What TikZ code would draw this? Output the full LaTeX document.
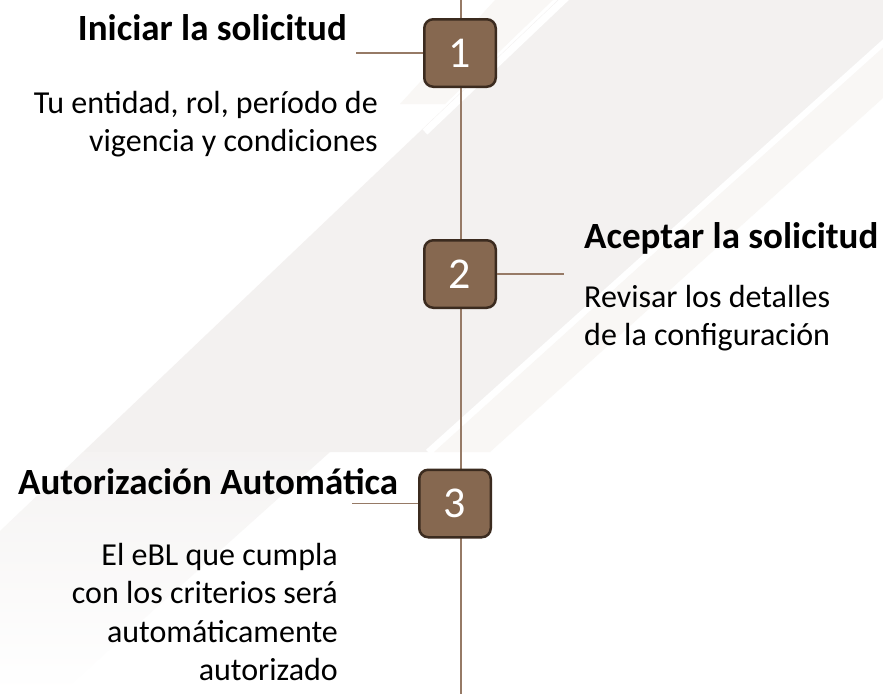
\documentclass[tikz,border=0pt]{standalone}
\usepackage{fontspec}
\setmainfont{Carlito}
\definecolor{boxfill}{RGB}{134,104,80}
\definecolor{boxline}{RGB}{59,43,31}
\definecolor{linkc}{RGB}{150,122,102}
\definecolor{bgA}{RGB}{243,241,240}
\definecolor{bgB}{RGB}{249,247,245}
\begin{document}
\begin{tikzpicture}[x=1pt,y=-1pt,
  stepnum/.style={draw=boxline, fill=boxfill, line width=2.5pt, rounded corners=9pt,
    minimum width=71.5pt, minimum height=67.5pt, inner sep=0pt, text=white,
    font=\fontsize{44}{44}\selectfont},
  title/.style={inner sep=0pt, font=\fontsize{37}{44}\selectfont\bfseries},
  body/.style={inner sep=0pt, font=\fontsize{32}{38}\selectfont},
  link/.style={draw=linkc, line width=1.3pt}]
\useasboundingbox (0,0) rectangle (883,694);
% background
\fill[white] (0,0) rectangle (883,694);
\fill[bgA] (558,0) -- (883,0) -- (883,40) -- (428,452) -- (83,452) -- cycle;
\shade[top color=bgA!85!white, bottom color=white] (83,452) -- (330,452) -- (60,694) -- (0,694) -- (0,531) -- cycle;
\fill[bgB] (883,46) -- (883,98) -- (490,452) -- (434,452) -- cycle;
\fill[bgB] (495,0) -- (553,0) -- (445,104) -- (400,104) -- cycle;
\draw[white, line width=7pt] (568,-4) -- (425,132);
\draw[white, line width=6pt] (890,37) -- (428,452);
% timeline
\coordinate (top) at (461,0);
\coordinate (bot) at (461,694);
\draw[link, line width=1.5pt] (top) -- (bot);
% steps
\node[stepnum] (s1) at (460,53) {1};
\node[stepnum] (s2) at (460,274) {2};
\node[stepnum] (s3) at (455,503.5) {3};
\coordinate (c1) at (356,53);
\coordinate (c2) at (564,274);
\coordinate (c3) at (352,503.5);
\draw[link] (c1) -- (s1.west);
\draw[link] (s2.east) -- (c2);
\draw[link] (c3) -- (s3.west);
% texts
\node[title, anchor=base east] (t1) at (347,40) {Iniciar la solicitud};
\node[body, anchor=base east] (d1a) at (378,113) {Tu entidad, rol, período de};
\node[body, anchor=base east] (d1b) at (378,151.5) {vigencia y condiciones};
\node[title, anchor=base west] (t2) at (584,248) {Aceptar la solicitud};
\node[body, anchor=base west] (d2a) at (584,307) {Revisar los detalles};
\node[body, anchor=base west] (d2b) at (584,345.5) {de la configuración};
\node[title, anchor=base west] (t3) at (18,494) {Autorización Automática};
\node[body, anchor=base east] (d3a) at (338,565) {El eBL que cumpla};
\node[body, anchor=base east] (d3b) at (338,603.5) {con los criterios será};
\node[body, anchor=base east] (d3c) at (338,642) {automáticamente};
\node[body, anchor=base east] (d3d) at (338,680.5) {autorizado};
\end{tikzpicture}
\end{document}
